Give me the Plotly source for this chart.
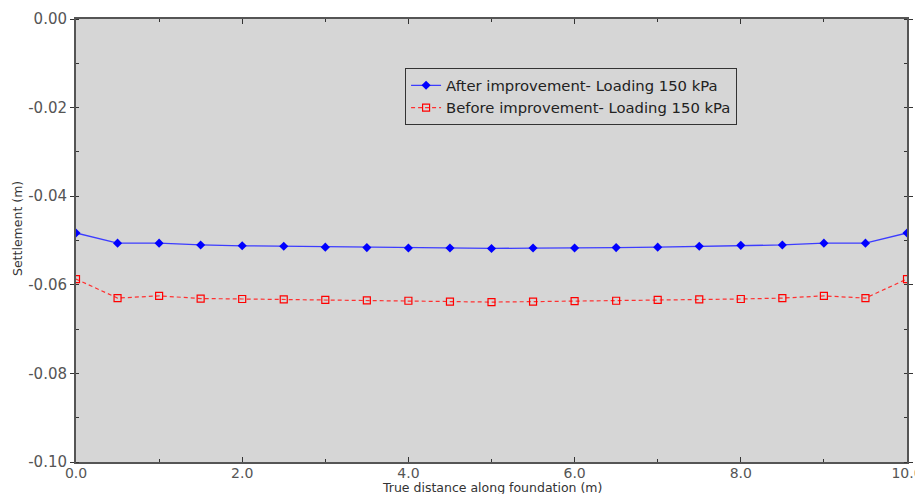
import plotly.graph_objects as go

x_vals = [0.0, 0.5, 1.0, 1.5, 2.0, 2.5, 3.0, 3.5, 4.0, 4.5, 5.0,
          5.5, 6.0, 6.5, 7.0, 7.5, 8.0, 8.5, 9.0, 9.5, 10.0]
after_vals = [-0.0483, -0.0506, -0.0506, -0.0510, -0.0512, -0.0513, -0.0515, -0.0516, -0.0517, -0.0517, -0.0518,
              -0.0517, -0.0517, -0.0516, -0.0515, -0.0513, -0.0511, -0.0510, -0.0506, -0.0506, -0.0483]
before_vals = [-0.0587, -0.0630, -0.0625, -0.0631, -0.0632, -0.0633, -0.0634, -0.0635, -0.0636, -0.0638, -0.0639,
               -0.0638, -0.0637, -0.0636, -0.0634, -0.0633, -0.0632, -0.0630, -0.0625, -0.0630, -0.0587]
x_ticks = [0.0, 2.0, 4.0, 6.0, 8.0, 10.0]
x_tick_labels = ["0.0", "2.0", "4.0", "6.0", "8.0", "10.0"]
y_ticks = [0.0, -0.02, -0.04, -0.06, -0.08, -0.10]
y_tick_labels = ["0.00", "-0.02", "-0.04", "-0.06", "-0.08", "-0.10"]

fig = go.Figure()
fig.add_trace(go.Scatter(
    x=x_vals, y=after_vals, mode="lines+markers",
    name="After improvement- Loading 150 kPa",
    line=dict(color="#3c3cff", width=1.3),
    marker=dict(symbol="diamond", size=7, color="#0000ff"),
))
fig.add_trace(go.Scatter(
    x=x_vals, y=before_vals, mode="lines+markers",
    name="Before improvement- Loading 150 kPa",
    line=dict(color="#ff3030", width=1.2, dash="4px,3px"),
    marker=dict(symbol="square-open", size=7, color="#ff0000", line=dict(width=1.2)),
))

axis_font = dict(family="DejaVu Sans", size=15, color="#555555")
xaxis_font = dict(family="DejaVu Sans", size=14, color="#555555")
title_font = dict(family="DejaVu Sans", size=12.5, color="#333333")
fig.update_layout(
    width=923, height=494,
    margin=dict(l=68, r=24, t=11, b=40, autoexpand=False),
    paper_bgcolor="white",
    plot_bgcolor="#d6d6d6",
    font=dict(family="DejaVu Sans", color="#333333"),
    showlegend=True,
    legend=dict(
        x=0.396, y=0.889, xanchor="left", yanchor="top",
        bgcolor="#d6d6d6", bordercolor="#333333", borderwidth=1,
        font=dict(family="DejaVu Sans", size=14.8, color="#222222"),
        tracegroupgap=0, itemwidth=30,
    ),
    xaxis=dict(
        range=[0, 10], tickvals=x_ticks, ticktext=x_tick_labels,
        showgrid=False, zeroline=False, automargin=False,
        showline=True, linecolor="#555555", linewidth=2, mirror="ticks",
        ticks="inside", ticklen=5, tickcolor="#333333",
        minor=dict(dtick=1.0, ticks="inside", ticklen=3, tickcolor="#333333"),
        tickfont=xaxis_font, ticklabelstandoff=-3,
    ),
    yaxis=dict(
        range=[-0.10, 0.0], tickvals=y_ticks, ticktext=y_tick_labels,
        showgrid=False, zeroline=False, automargin=False,
        showline=True, linecolor="#555555", linewidth=2, mirror="ticks",
        ticks="outside", ticklen=4, tickcolor="#333333",
        minor=dict(dtick=0.01, ticks="inside", ticklen=3, tickcolor="#333333"),
        tickfont=axis_font,
    ),
    annotations=[
        dict(text="True distance along foundation (m)", xref="paper", yref="paper",
             x=0.5, y=0, xanchor="center", yanchor="top", yshift=-16,
             showarrow=False, font=title_font),
        dict(text="Settlement (m)", xref="paper", yref="paper",
             x=0, y=0.5, xanchor="right", yanchor="middle", xshift=-49, yshift=12,
             textangle=-90, showarrow=False, font=title_font),
    ],
)

fig.write_html("out.html")
